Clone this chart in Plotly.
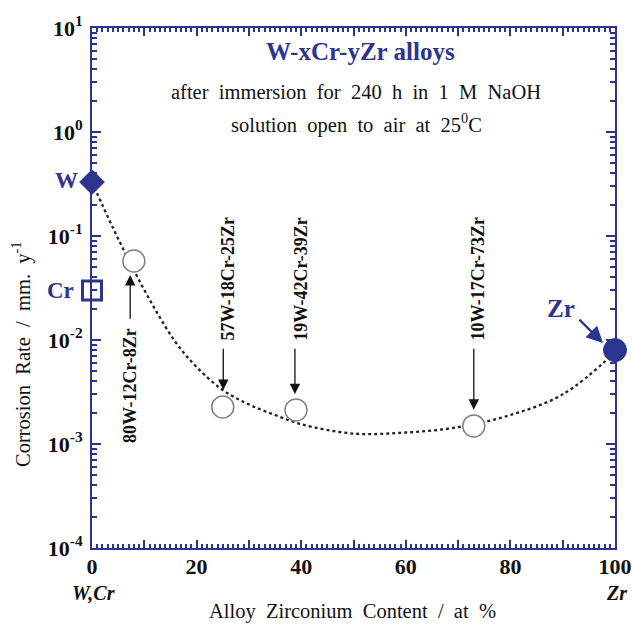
import numpy as np
import plotly.graph_objects as go

NAVY = "#2b3590"
SERIF = "Liberation Serif"

# ---- data ----
curve_x = [0, 4, 8, 12, 16, 20, 25, 30, 35, 40, 50, 60, 70, 80, 90, 100]
curve_y = [0.33, 0.12, 0.047, 0.020, 0.0095, 0.0055, 0.0033, 0.0024, 0.0019,
           0.00155, 0.00126, 0.00129, 0.00145, 0.0019, 0.0030, 0.0076]

alloy_zr = [8, 25, 39, 73]
alloy_rate = [0.0575, 0.00227, 0.00212, 0.00149]
alloy_labels = ["80W-12Cr-8Zr", "57W-18Cr-25Zr", "19W-42Cr-39Zr", "10W-17Cr-73Zr"]

w_x, w_rate = [0], [0.33]
cr_x, cr_rate = [0], [0.030]
zr_x, zr_rate = [100], [0.0080]

x_tickvals = [0, 10, 20, 30, 40, 50, 60, 70, 80, 90, 100]
x_ticktext = ["0", "", "20", "", "40", "", "60", "", "80", "", "100"]
y_tickvals = [1e-4, 1e-3, 1e-2, 1e-1, 1e0, 1e1]
y_ticktext = ["10<sup>-4</sup>", "10<sup>-3</sup>", "10<sup>-2</sup>",
              "10<sup>-1</sup>", "10<sup>0</sup>", "10<sup>1</sup>"]
minor_x = list(range(0, 101))
minor_y = [m * 10.0 ** e for e in range(-4, 1) for m in range(2, 10)]

FW, FH = 632, 626
L, R, T, B = 92, 615, 28, 548          # plot area in pixels
W_, H_ = R - L, B - T


def px(xp):
    return (xp - L) / W_


def py(yp):
    return (B - yp) / H_


fig = go.Figure()

fig.add_trace(go.Scatter(x=[0, 100], y=[1e-4, 10], xaxis="x2", yaxis="y2", mode="markers",
                         marker=dict(opacity=0), hoverinfo="skip", showlegend=False))

fig.add_trace(go.Scatter(x=curve_x, y=curve_y, mode="lines",
                         line=dict(color="#222", width=2.3, dash="dot", shape="spline", smoothing=1.0),
                         cliponaxis=False, hoverinfo="skip"))
fig.add_trace(go.Scatter(x=alloy_zr, y=alloy_rate, mode="markers",
                         marker=dict(symbol="circle", size=22, color="white",
                                     line=dict(color="#808080", width=1.5)),
                         cliponaxis=False))
fig.add_trace(go.Scatter(x=w_x, y=w_rate, mode="markers",
                         marker=dict(symbol="diamond", size=19, color=NAVY,
                                     line=dict(color=NAVY, width=1)),
                         cliponaxis=False))
fig.add_trace(go.Scatter(x=cr_x, y=cr_rate, mode="markers",
                         marker=dict(symbol="square", size=19, color="white",
                                     line=dict(color=NAVY, width=3)),
                         cliponaxis=False))
fig.add_trace(go.Scatter(x=zr_x, y=zr_rate, mode="markers",
                         marker=dict(symbol="circle", size=23, color=NAVY,
                                     line=dict(color=NAVY, width=1)),
                         cliponaxis=False))

ann = []
label_cfg = [
    (7.3, -2.44, 7.3, -1.375, -1.81),
    (26.0, -1.41, 25.1, -2.48, -2.07),
    (39.8, -1.41, 38.8, -2.52, -2.07),
    (73.8, -1.41, 73.0, -2.67, -2.07),
]
for lab, (tx, ty, axx, hy, tyl) in zip(alloy_labels, label_cfg):
    ann.append(dict(x=tx, y=ty, xref="x", yref="y", text="<b>%s</b>" % lab,
                    textangle=-90, showarrow=False, xanchor="center", yanchor="middle",
                    font=dict(family=SERIF, size=18, color="#111")))
    ann.append(dict(x=axx, y=hy, xref="x", yref="y", ax=axx, ay=tyl, axref="x", ayref="y",
                    text="", showarrow=True, arrowhead=2, arrowsize=1.6, arrowwidth=1.3,
                    arrowcolor="#111", standoff=0, startstandoff=0))


def txt(xp, yp, text, size, color="#111", angle=0):
    return dict(x=px(xp), y=py(yp), xref="paper", yref="paper", text=text, showarrow=False,
                xanchor="center", yanchor="middle", textangle=angle,
                font=dict(family=SERIF, size=size, color=color))


ann.append(txt(66, 181, "<b>W</b>", 23, NAVY))
ann.append(txt(60, 290, "<b>Cr</b>", 23, NAVY))
ann.append(txt(561, 308, "<b>Zr</b>", 25, NAVY))
ann.append(dict(x=97.7, y=-2.03, xref="x", yref="y", ax=92.9, ay=-1.79, axref="x", ayref="y",
                text="", showarrow=True, arrowhead=2, arrowsize=1.5, arrowwidth=2.2,
                arrowcolor=NAVY, standoff=0))

ann.append(txt(360, 52, "<b>W-xCr-yZr alloys</b>", 25, NAVY))
ann.append(txt(356, 92, "after  immersion  for  240  h  in  1  M  NaOH", 20.5))
ann.append(txt(356, 123, "solution  open  to  air  at  25<sup>0</sup>C", 20.5))
ann.append(txt(352, 611, "Alloy  Zirconium  Content  /  at  %", 20.5))
ann.append(txt(21, 355, "Corrosion  Rate  /  mm.  y<sup>-1</sup>", 20.5, angle=-90))
ann.append(txt(93, 593, "<b><i>W,Cr</i></b>", 20))
ann.append(txt(616, 593, "<b><i>Zr</i></b>", 20))

common = dict(showgrid=False, zeroline=False, automargin=False,
              showline=True, linecolor=NAVY, linewidth=2, mirror="allticks")

fig.update_layout(
    width=FW, height=FH,
    margin=dict(l=L, r=FW - R, t=T, b=FH - B),
    paper_bgcolor="white", plot_bgcolor="white",
    showlegend=False,
    annotations=ann,
    font=dict(family=SERIF, color="#111"),
    xaxis=dict(range=[0, 100], **common,
               ticks="inside", ticklen=8, tickwidth=2, tickcolor=NAVY,
               tickmode="array", tickvals=x_tickvals, ticktext=x_ticktext,
               ticklabelstandoff=-2,
               tickfont=dict(family=SERIF, size=22, color="#111", weight="bold")),
    yaxis=dict(type="log", range=[-4, 1], **common,
               ticks="inside", ticklen=9, tickwidth=2, tickcolor=NAVY,
               tickmode="array", tickvals=y_tickvals, ticktext=y_ticktext,
               tickfont=dict(family=SERIF, size=22, color="#111", weight="bold"),
               ticklabelstandoff=3),
    xaxis2=dict(overlaying="x", anchor="y2", side="bottom", range=[0, 100], **common,
                ticks="inside", ticklen=4, tickwidth=1.5, tickcolor=NAVY,
                tickmode="array", tickvals=minor_x, showticklabels=False),
    yaxis2=dict(overlaying="y", anchor="x2", side="left", type="log", range=[-4, 1], **common,
                ticks="inside", ticklen=5, tickwidth=1.5, tickcolor=NAVY,
                tickmode="array", tickvals=minor_y, showticklabels=False),
)

fig.write_html("out.html", config={"displayModeBar": False},
               post_script="document.body.style.margin='0';document.body.style.overflow='hidden';")
